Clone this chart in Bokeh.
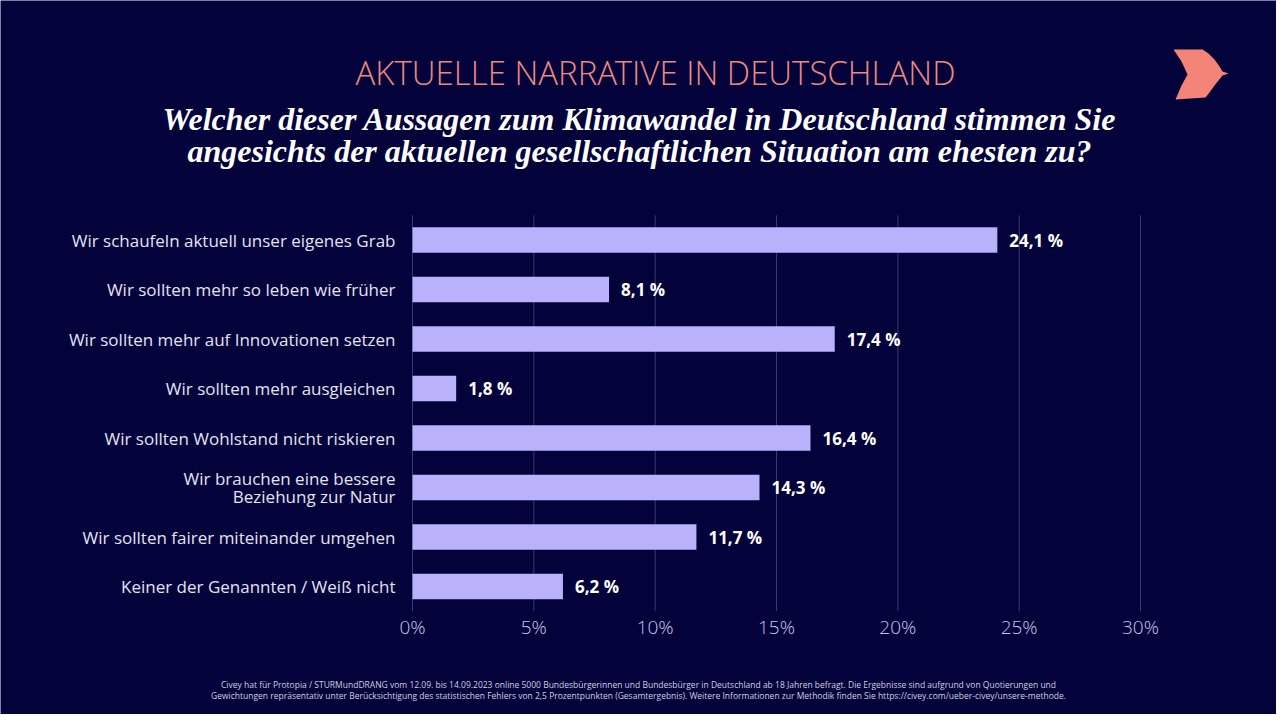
from bokeh.plotting import figure
from bokeh.models import Range1d, Label, ColumnDataSource, PolyAnnotation
from bokeh.core.properties import value
from bokeh.embed import file_html
from bokeh.resources import INLINE

categories = [
    "Wir schaufeln aktuell unser eigenes Grab",
    "Wir sollten mehr so leben wie früher",
    "Wir sollten mehr auf Innovationen setzen",
    "Wir sollten mehr ausgleichen",
    "Wir sollten Wohlstand nicht riskieren",
    "Wir brauchen eine bessere\nBeziehung zur Natur",
    "Wir sollten fairer miteinander umgehen",
    "Keiner der Genannten / Weiß nicht",
]
values = [24.1, 8.1, 17.4, 1.8, 16.4, 14.3, 11.7, 6.2]
value_labels = ["24,1 %", "8,1 %", "17,4 %", "1,8 %", "16,4 %", "14,3 %", "11,7 %", "6,2 %"]
x_ticks = [0, 5, 10, 15, 20, 25, 30]
x_tick_labels = ["0%", "5%", "10%", "15%", "20%", "25%", "30%"]

kicker = "AKTUELLE NARRATIVE IN DEUTSCHLAND"
question = ["Welcher dieser Aussagen zum Klimawandel in Deutschland stimmen Sie",
            "angesichts der aktuellen gesellschaftlichen Situation am ehesten zu?"]
footer = ["Civey hat für Protopia / STURMundDRANG vom 12.09. bis 14.09.2023 online 5000 Bundesbürgerinnen und Bundesbürger in Deutschland ab 18 Jahren befragt. Die Ergebnisse sind aufgrund von Quotierungen und",
          "Gewichtungen repräsentativ unter Berücksichtigung des statistischen Fehlers von 2,5 Prozentpunkten (Gesamtergebnis). Weitere Informationen zur Methodik finden Sie https://civey.com/ueber-civey/unsere-methode."]

BG = "#03023a"
BAR = "#b9b1f9"
GRID = "#3a3a72"
W, H = 1276, 714
SANS = "Open Sans"
SANS_LIGHT = "Open Sans Light"

# layout in pixels (canvas coordinates, from top-left)
PLOT_LEFT, PLOT_RIGHT = 412, 1140     # pixel x of 0% and of 30%
BAND0_Y, BAND_STEP = 239.5, 49.5      # centre of first band, band pitch
LINE_GAP = 18                         # pixel gap between lines of a wrapped label

n = len(categories)
x_max = x_ticks[-1]
ppu = (PLOT_RIGHT - PLOT_LEFT) / x_max
x_range = Range1d(-PLOT_LEFT / ppu, x_max + (W - PLOT_RIGHT) / ppu)
top_k = (n - 1) + BAND0_Y / BAND_STEP
bot_k = (n - 1) - (H - BAND0_Y) / BAND_STEP
y_range = Range1d(bot_k, top_k)

p = figure(width=W, height=H, output_backend="svg", toolbar_location=None,
           x_range=x_range, y_range=y_range, x_axis_type=None, y_axis_type=None,
           min_border=0, min_border_left=0, min_border_right=0,
           min_border_top=0, min_border_bottom=0)
p.background_fill_color = BG
p.border_fill_color = BG
p.outline_line_color = None
p.grid.visible = False

ypos = [n - 1 - i for i in range(n)]
src = ColumnDataSource(dict(cat=categories, val=values, lab=value_labels, y=ypos))

# vertical grid lines
p.segment(x0=x_ticks, x1=x_ticks, y0=[-0.5] * len(x_ticks), y1=[n - 0.5] * len(x_ticks),
          line_color=GRID, line_width=1)

# bars
p.hbar(y="y", right="val", left=0, height=0.52, source=src,
       fill_color=BAR, line_color=None)

# value labels
p.text(x="val", y="y", text="lab", source=src, x_offset=12,
       text_color="white", text_font=value(SANS), text_font_style="bold",
       text_font_size="17px", text_baseline="middle", text_align="left")

# category labels (wrapped labels split into separate lines)
lx, ly, lt, lo = [], [], [], []
for cat, yv in zip(categories, ypos):
    lines = cat.split("\n")
    for j, line in enumerate(lines):
        lx.append(0)
        ly.append(yv)
        lt.append(line)
        lo.append((j - (len(lines) - 1) / 2) * LINE_GAP)
p.text(x=lx, y=ly, text=lt, x_offset=-17, y_offset=lo,
       text_color="#e4e3f3", text_font=value(SANS), text_font_size="17px",
       text_baseline="middle", text_align="right")

# x tick labels
p.text(x=x_ticks, y=[-0.5] * len(x_ticks), text=x_tick_labels, y_offset=16,
       text_color="#c3c1e6", text_font=value(SANS_LIGHT), text_font_size="19px",
       text_baseline="middle", text_align="center")


def sy(y_top):
    return H - y_top

p.add_layout(Label(x=655, y=sy(72), x_units="screen", y_units="screen", text=kicker,
                   text_align="center", text_baseline="middle", text_color="#ec8a80",
                   text_font=SANS_LIGHT, text_font_size="33px"))
for i, line in enumerate(question):
    p.add_layout(Label(x=639, y=sy(118 + 32 * i), x_units="screen", y_units="screen", text=line,
                       text_align="center", text_baseline="middle", text_color="white",
                       text_font="Liberation Serif", text_font_style="bold italic",
                       text_font_size="32px"))
for i, line in enumerate(footer):
    p.add_layout(Label(x=638, y=sy(684 + 11 * i), x_units="screen", y_units="screen", text=line,
                       text_align="center", text_baseline="middle", text_color="#d0d0e0",
                       text_font=SANS, text_font_size="8.5px"))

logo_x = [1173, 1202, 1208, 1214, 1219, 1222, 1228, 1222, 1218, 1214, 1209, 1205, 1175, 1181, 1187, 1181]
logo_y = [49, 49, 53, 59, 66, 71, 73, 75, 80, 85, 92, 97, 99, 85, 74, 61]
p.add_layout(PolyAnnotation(xs=logo_x, ys=[sy(v) for v in logo_y], xs_units="screen", ys_units="screen",
                            fill_color="#f58478", fill_alpha=1.0, line_color=None))

open("out.html", "w").write(file_html(p, INLINE))
